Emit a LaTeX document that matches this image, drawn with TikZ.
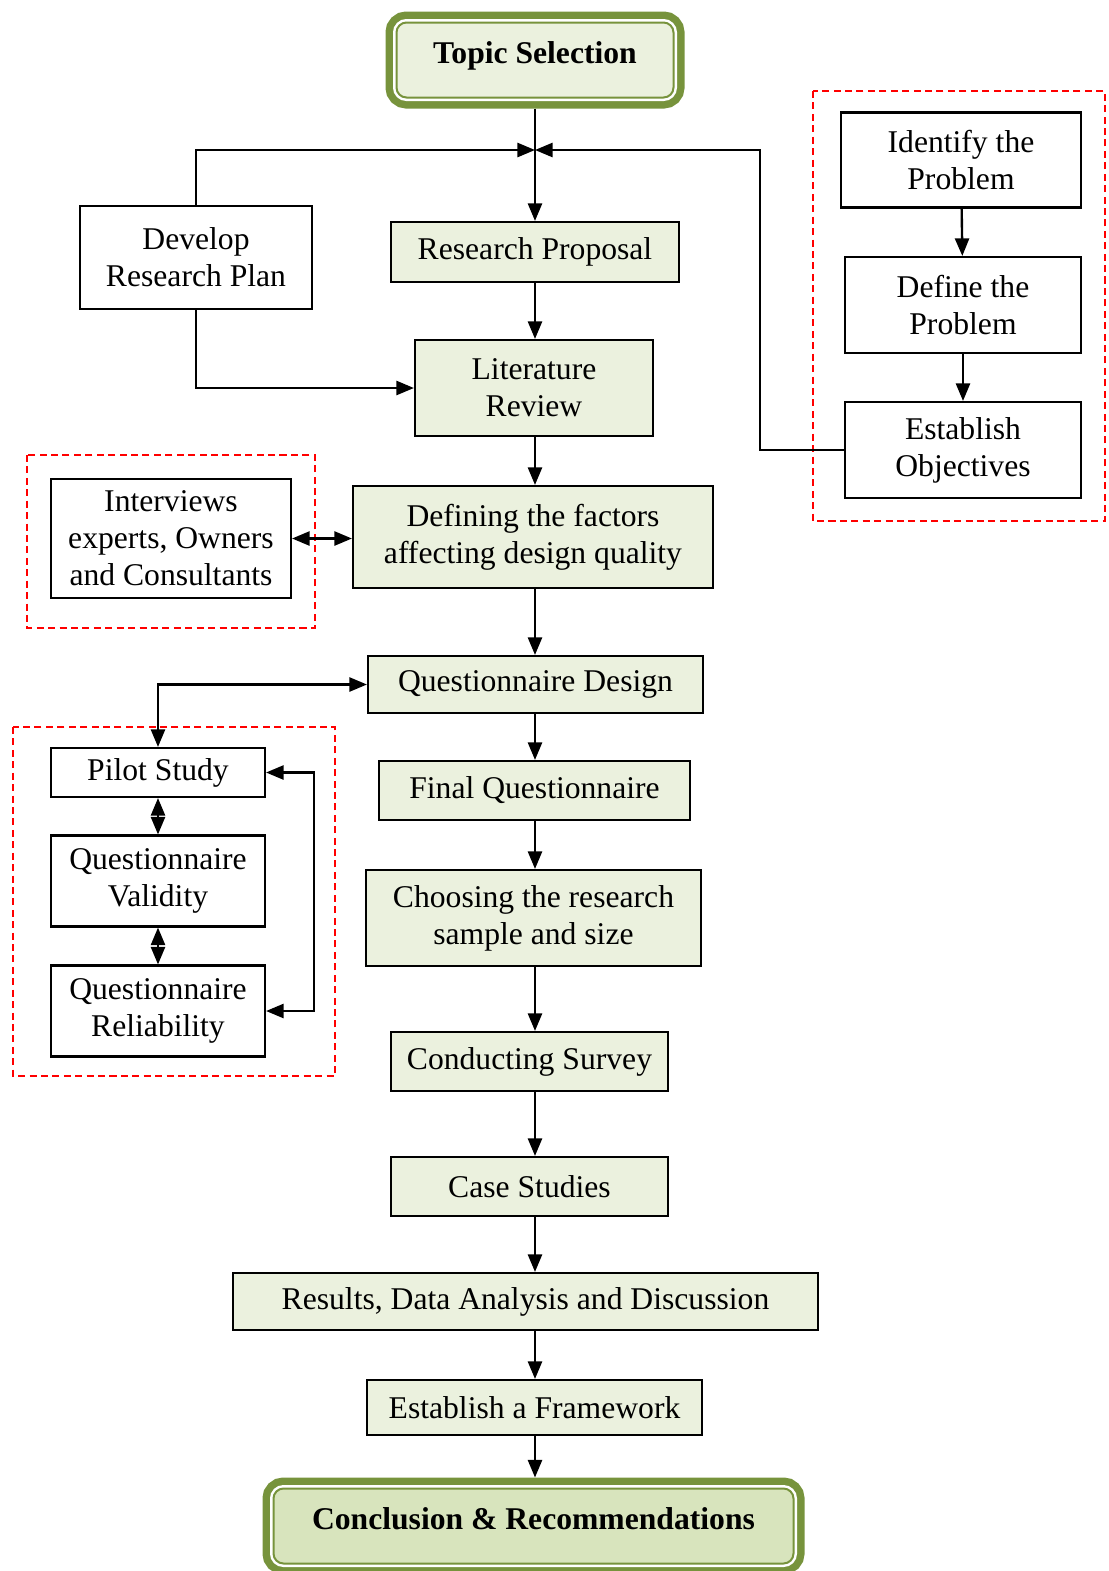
\documentclass[tikz,border=0pt]{standalone}
\usepackage{fontspec}
\setmainfont{Liberation Serif}
\usetikzlibrary{arrows.meta}
\definecolor{boxGreen}{RGB}{235,241,222}
\definecolor{endGreen}{RGB}{216,228,189}
\definecolor{oliveEdge}{RGB}{119,147,60}
\tikzset{
  txt/.style={align=center,inner sep=0pt,font=\fontsize{18}{21}\selectfont},
  gbox/.style={txt,draw,line width=1.2pt,fill=boxGreen},
  wbox/.style={txt,draw,line width=1.2pt,fill=white},
  ends/.style={txt,font=\fontsize{18}{21}\selectfont\bfseries,draw=oliveEdge,line width=0.04cm,
               rounded corners=0.2cm,outer sep=0.22cm,text height=0.5cm,text depth=0.38cm,
               preaction={draw=oliveEdge,line width=0.44cm},
               preaction={draw=white,line width=0.14cm}},
  sz/.style 2 args={minimum width=#1cm,minimum height=#2cm},
  grp/.style={draw=red,line width=0.9pt,dash pattern=on 4pt off 2.5pt},
  arr/.style={-{Triangle[length=10pt,width=8pt]},line width=1.35pt},
  darr/.style={{Triangle[length=10pt,width=8pt]}-{Triangle[length=10pt,width=8pt]},line width=1.35pt},
}

\begin{document}
\begin{tikzpicture}
  \useasboundingbox (0,0) rectangle (22.18,-31.42);
  \draw[grp] (16.26,-1.82) rectangle (22.10,-10.42);
  \draw[grp] (0.54,-9.10) rectangle (6.30,-12.56);
  \draw[grp] (0.26,-14.54) rectangle (6.70,-21.52);

  \node[ends,fill=boxGreen,sz={5.54}{1.5}] (topic) at (10.70,-1.20) {Topic Selection};
  \node[gbox,sz={5.76}{1.2}] (prop) at (10.70,-5.04) {Research Proposal};
  \node[wbox,sz={4.64}{2.06}] (dev) at (3.92,-5.15) {Develop\\Research Plan};
  \node[gbox,sz={4.76}{1.92}] (lit) at (10.68,-7.76) {Literature\\Review};
  \node[gbox,sz={7.2}{2.04}] (def) at (10.66,-10.74) {Defining the factors\\affecting design quality};
  \node[wbox,sz={4.8}{2.38}] (intv) at (3.42,-10.77) {Interviews\\experts, Owners\\and Consultants};
  \node[wbox,sz={4.8}{1.9}] (ident) at (19.22,-3.20) {Identify the\\Problem};
  \node[wbox,sz={4.72}{1.92}] (defp) at (19.26,-6.10) {Define the\\Problem};
  \node[wbox,sz={4.72}{1.92}] (estab) at (19.26,-9.00) {Establish\\Objectives};
  \node[gbox,sz={6.7}{1.14}] (qdes) at (10.71,-13.69) {Questionnaire Design};
  \node[gbox,sz={6.22}{1.18}] (final) at (10.69,-15.81) {Final Questionnaire};
  \node[gbox,sz={6.7}{1.92}] (choose) at (10.67,-18.36) {Choosing the research\\sample and size};
  \node[gbox,sz={5.54}{1.18}] (survey) at (10.59,-21.23) {Conducting Survey};
  \node[gbox,sz={5.54}{1.18}] (case) at (10.59,-23.73) {Case Studies};
  \node[gbox,sz={11.7}{1.14}] (results) at (10.51,-26.03) {Results, Data Analysis and Discussion};
  \node[gbox,sz={6.7}{1.1}] (frame) at (10.69,-28.15) {Establish a Framework};
  \node[ends,fill=endGreen,sz={10.4}{1.5}] (concl) at (10.67,-30.52) {Conclusion \& Recommendations};
  \node[wbox,sz={4.28}{0.98}] (pilot) at (3.16,-15.45) {Pilot Study};
  \node[wbox,sz={4.28}{1.82}] (valid) at (3.16,-17.62) {Questionnaire\\Validity};
  \node[wbox,sz={4.28}{1.82}] (relia) at (3.16,-20.22) {Questionnaire\\Reliability};

  \coordinate (junc) at (10.70,-3.00);
  \coordinate (spine) at (10.70,0);

  \draw[arr] (topic.south) -- (prop.north);
  \draw[arr] (dev.north) |- (junc);
  \draw[arr] (estab.west) -- ++(-1.68,0) |- (junc);
  \draw[arr] (dev.south) |- (lit.west);
  \draw[arr] (ident) -- (defp);
  \draw[arr] (defp) -- (estab);
  \draw[darr] (intv.east) -- (intv.east -| def.west);
  \draw[darr] (pilot.north) |- (qdes.west);
  \draw[darr] (pilot) -- (valid);
  \draw[darr] (valid) -- (relia);
  \draw[darr] (pilot.east) -- ++(0.96,0) |- (relia.east);
  \foreach \a/\b in {prop/lit,lit/def,def/qdes,qdes/final,final/choose,choose/survey,
                     survey/case,case/results,results/frame,frame/concl}
    \draw[arr] (\a.south -| spine) -- (\b.north -| spine);
\end{tikzpicture}
\end{document}
